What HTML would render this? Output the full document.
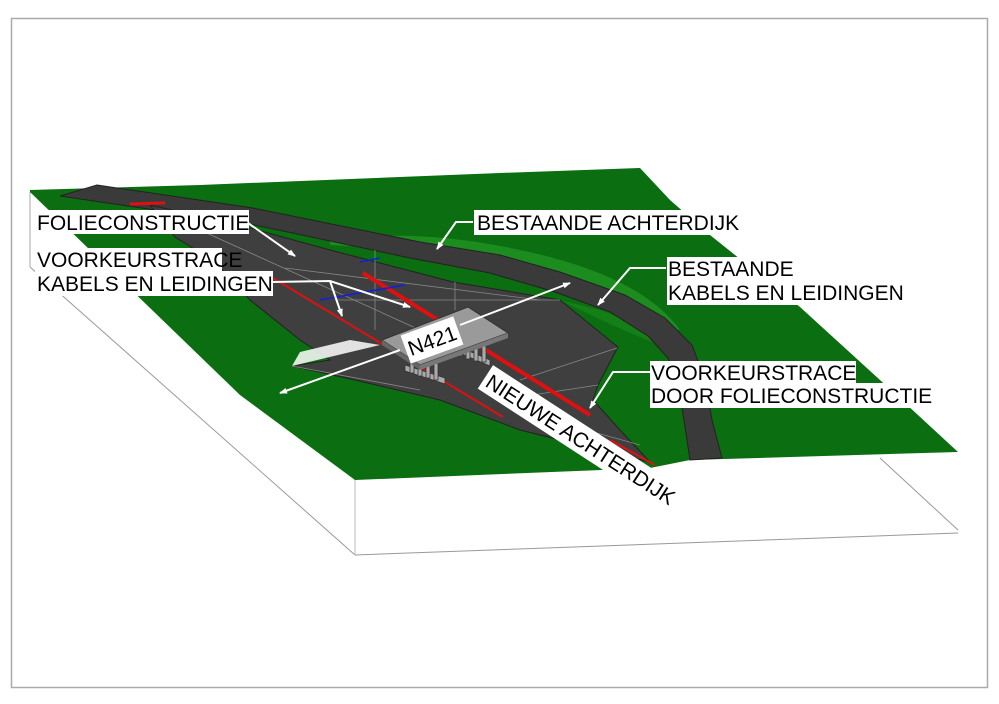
<!DOCTYPE html>
<html><head><meta charset="utf-8"><style>
body{margin:0;background:#fff;}
svg{display:block}
text{font-family:"Liberation Sans",sans-serif;font-size:21px;fill:#000}
</style></head><body>
<svg width="999" height="704" viewBox="0 0 999 704" xmlns="http://www.w3.org/2000/svg">
<rect x="0" y="0" width="999" height="704" fill="#fff"/>
<rect x="11.5" y="18.5" width="976" height="669" fill="none" stroke="#aaa" stroke-width="1.5"/>
<!-- white block faces -->
<polygon points="30,192 355,478 355,555 30,267" fill="#fff"/>
<line x1="30" y1="192" x2="30" y2="267" stroke="#aaa"/>
<line x1="30" y1="267" x2="355" y2="555" stroke="#999"/>
<line x1="355" y1="555" x2="958" y2="533" stroke="#999"/>
<line x1="880" y1="458" x2="958" y2="530" stroke="#999"/>
<line x1="355" y1="478" x2="355" y2="555" stroke="#bbb"/>
<!-- green top -->
<polygon points="30,190 200,185 500,173 640,168 670,200 710,235 800,307 880,380 958,452 690,460 650,468 355,480 240,395 30,192" fill="#0b6e10"/>
<path d="M330,245 Q430,250 500,265 Q600,285 640,320 L680,330 Q640,275 520,250 Q420,228 330,240Z" fill="#2aa02a" opacity="0.6"/>
<path d="M560,300 Q620,330 660,345 L700,400 Q660,330 600,310Z" fill="#1a8a1a" opacity="0.6"/>
<!-- existing dike road -->
<path d="M97,185 L253,208 L420,242 L500,255 L560,272 L625,295 L665,318 L692,345 L705,380 L712,420 L722,458 L690,460 L684,420 L678,385 L668,358 L648,336 L610,312 L555,292 L490,273 L410,258 L250,224 L60,196 Z" fill="#3a3a3a" stroke="#222" stroke-width="1"/>
<!-- dark wedge (new dike area) -->
<polygon points="150,205 250,228 330,250 453,282 560,300 597,330 618,347 598,385 593,400 620,430 650,462 620,455 520,430 440,400 355,380 292,366 330,360 300,340 250,300 215,262 175,237" fill="#3f3f3f" stroke="#222" stroke-width="1"/>
<polygon points="292,366 380,345 350,340 300,352" fill="#fff" opacity="0.85"/>
<!-- faint mesh lines -->
<g stroke="#888" stroke-width="0.8" fill="none">
<line x1="200" y1="230" x2="420" y2="330"/><line x1="285" y1="268" x2="540" y2="300"/>
<line x1="335" y1="300" x2="560" y2="300"/><line x1="375" y1="250" x2="375" y2="330"/>
<line x1="455" y1="282" x2="455" y2="310"/><line x1="520" y1="380" x2="617" y2="348"/>
<line x1="500" y1="400" x2="598" y2="385"/><line x1="550" y1="420" x2="640" y2="445"/>
<line x1="292" y1="366" x2="420" y2="390"/>
</g>
<!-- red lines -->
<line x1="273" y1="278" x2="503" y2="417" stroke="#e01010" stroke-width="2"/>
<line x1="363" y1="273" x2="590" y2="415" stroke="#e01010" stroke-width="4"/>
<line x1="130" y1="204" x2="165" y2="203" stroke="#e01010" stroke-width="3"/>
<line x1="610" y1="440" x2="655" y2="465" stroke="#e01010" stroke-width="2"/>
<line x1="320" y1="300" x2="405" y2="285" stroke="#1020e0" stroke-width="1.5"/>
<line x1="360" y1="262" x2="380" y2="258" stroke="#1020e0" stroke-width="1.5"/>
<!-- bridge -->
<g fill="#aaa" stroke="#333" stroke-width="0.8">
<polygon points="405,365 445,378 445,384 405,371"/>
<polygon points="455,345 490,360 490,366 455,351"/>
<rect x="410" y="355" width="4" height="18"/><rect x="418" y="357" width="4" height="19"/><rect x="426" y="359" width="4" height="19"/><rect x="434" y="361" width="4" height="19"/>
<rect x="458" y="340" width="4" height="16"/><rect x="466" y="342" width="4" height="17"/><rect x="474" y="344" width="4" height="17"/><rect x="482" y="346" width="4" height="16"/>
</g>
<polygon points="382,340 468,307 508,333 420,365" fill="#9a9a9a" stroke="#333" stroke-width="1"/>
<polygon points="382,340 420,365 420,370 382,345" fill="#666"/>
<polygon points="420,365 508,333 508,338 420,370" fill="#777"/>
<!-- arrows -->
<defs><marker id="a" markerWidth="8" markerHeight="8" refX="7" refY="4" orient="auto" markerUnits="userSpaceOnUse"><path d="M0,1 L8,4 L0,7Z" fill="#fff"/></marker></defs>
<g stroke="#fff" stroke-width="2" fill="none">
<line x1="248" y1="223" x2="295" y2="256" marker-end="url(#a)"/>
<polyline points="272,282 330,281 410,307" marker-end="url(#a)"/>
<line x1="330" y1="281" x2="342" y2="316" marker-end="url(#a)"/>
<line x1="460" y1="325" x2="570" y2="283" marker-end="url(#a)"/>
<line x1="400" y1="350" x2="280" y2="393" marker-end="url(#a)"/>
<polyline points="473,222 456,222 437,249" marker-end="url(#a)"/>
<polyline points="666,268 630,268 598,305" marker-end="url(#a)"/>
<polyline points="651,372 613,372 590,408" marker-end="url(#a)"/>
</g>
<!-- labels -->
<g fill="#fff">
<rect x="35" y="210" width="214" height="24"/>
<rect x="35" y="248" width="187" height="23"/>
<rect x="35" y="271" width="238" height="25"/>
<rect x="474" y="210" width="272" height="25"/>
<rect x="667" y="257" width="130" height="23"/>
<rect x="667" y="280" width="238" height="25"/>
<rect x="650" y="361" width="206" height="23"/>
<rect x="650" y="383" width="282" height="25"/>
</g>
<text x="37" y="230">FOLIECONSTRUCTIE</text>
<text x="37" y="267">VOORKEURSTRACE</text>
<text x="37" y="291">KABELS EN LEIDINGEN</text>
<text x="477" y="230">BESTAANDE ACHTERDIJK</text>
<text x="668" y="276">BESTAANDE</text>
<text x="668" y="300">KABELS EN LEIDINGEN</text>
<text x="651" y="380">VOORKEURSTRACE</text>
<text x="651" y="403">DOOR FOLIECONSTRUCTIE</text>
<g transform="translate(432,340) rotate(-20)">
<rect x="-28" y="-15" width="56" height="30" fill="#fff"/>
<text x="0" y="8" text-anchor="middle">N421</text>
</g>
<g transform="translate(581,439) rotate(33)">
<rect x="-114" y="-14" width="228" height="28" fill="#fff"/>
<text x="0" y="8" text-anchor="middle">NIEUWE ACHTERDIJK</text>
</g>
</svg>
</body></html>
